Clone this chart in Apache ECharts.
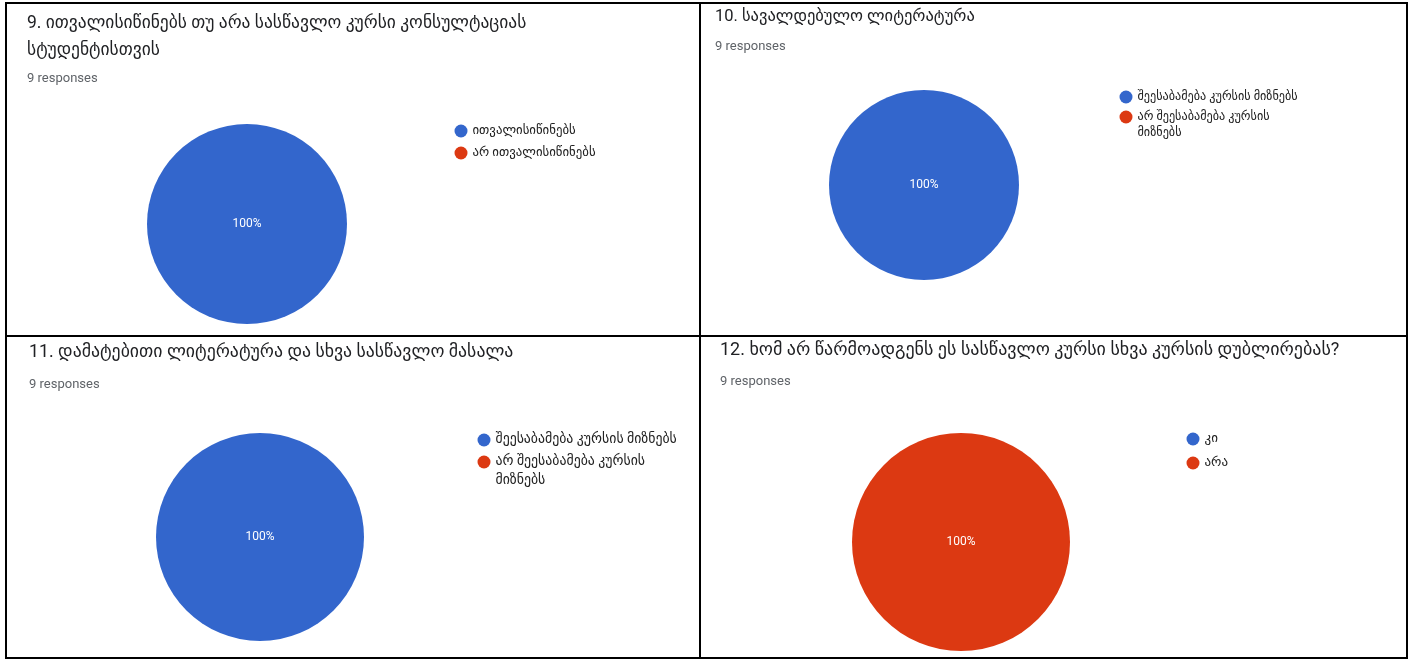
<!DOCTYPE html>
<html><head><meta charset="utf-8">
<script src="https://cdn.jsdelivr.net/npm/echarts@6/dist/echarts.min.js"></script>
<style>html,body{margin:0;padding:0;background:#fff}#c{width:1410px;height:659px}</style>
</head><body><div id="c"></div>
<script>
const titles = [
  "9. ითვალისიწინებს თუ არა სასწავლო კურსი კონსულტაციას\nსტუდენტისთვის",
  "10. სავალდებულო ლიტერატურა",
  "11. დამატებითი ლიტერატურა და სხვა სასწავლო მასალა",
  "12. ხომ არ წარმოადგენს ეს სასწავლო კურსი სხვა კურსის დუბლირებას?"
];
const responsesText = "9 responses";
const cats1 = ["ითვალისიწინებს", "არ ითვალისიწინებს"];
const vals1 = [9, 0];
const cats2 = ["შეესაბამება კურსის მიზნებს", "არ შეესაბამება კურსის მიზნებს"];
const vals2 = [9, 0];
const cats3 = ["შეესაბამება კურსის მიზნებს", "არ შეესაბამება კურსის მიზნებს"];
const vals3 = [9, 0];
const cats4 = ["კი", "არა"];
const vals4 = [0, 9];

const COLORS = ["#3366cc", "#dc3912"];
const FONT = "Roboto, 'DejaVu Sans', sans-serif";

// wrap legend labels at word boundaries (max characters per line)
function wrap(name, maxChars) {
  const words = name.split(' ');
  const lines = [];
  let cur = '';
  words.forEach(w => {
    const t = cur ? cur + ' ' + w : w;
    if (t.length > maxChars && cur) { lines.push(cur); cur = w; } else cur = t;
  });
  if (cur) lines.push(cur);
  return lines;
}

const panels = [
  {cats: cats1, vals: vals1, title: titles[0], tx: 27, ty: 10, tsize: 17.5, tlh: 27, rx: 27, ry: 72, cx: 247, cy: 224, r: 100, licx: 461, liy: [131, 153], lfs: 12.8, llh: 16},
  {cats: cats2, vals: vals2, title: titles[1], tx: 715, ty: 6, tsize: 16.5, tlh: 22, rx: 715, ry: 40, cx: 924, cy: 185, r: 95, licx: 1126, liy: [97, 117], lfs: 12.2, llh: 16},
  {cats: cats3, vals: vals3, title: titles[2], tx: 29, ty: 342, tsize: 17.8, tlh: 22, rx: 29, ry: 378, cx: 260, cy: 537, r: 104, licx: 484, liy: [440, 462], lfs: 13.8, llh: 19},
  {cats: cats4, vals: vals4, title: titles[3], tx: 720, ty: 338, tsize: 18, tlh: 24, rx: 720, ry: 375, cx: 961, cy: 542, r: 109, licx: 1193, liy: [439, 463], lfs: 13, llh: 17}
];

const title = [], legend = [], series = [];
panels.forEach((p, i) => {
  title.push({
    text: p.title, left: p.tx, top: p.ty, padding: 0,
    textStyle: {fontFamily: FONT, fontSize: p.tsize, fontWeight: 'normal', color: '#202124', lineHeight: p.tlh}
  });
  title.push({
    text: responsesText, left: p.rx, top: p.ry, padding: 0,
    textStyle: {fontFamily: FONT, fontSize: 13, fontWeight: 'normal', color: '#5f6368'}
  });
  const total = p.vals.reduce((a, b) => a + b, 0);
  series.push({
    type: 'pie', center: [p.cx, p.cy], radius: [0, p.r],
    startAngle: 90, clockwise: true, avoidLabelOverlap: false,
    silent: true, stillShowZeroSum: true,
    label: {show: true, position: 'center', color: '#fff', fontFamily: FONT, fontSize: 12,
      formatter: (d) => Math.round(d.value / total * 100) + '%'},
    labelLine: {show: false},
    itemStyle: {borderWidth: 0},
    emphasis: {disabled: true},
    data: p.cats.map((c, k) => ({
      name: c, value: p.vals[k],
      itemStyle: {color: COLORS[k]},
      label: {show: p.vals[k] > 0}
    }))
  });
  p.cats.forEach((c, k) => {
    const lines = wrap(c, 26);
    const n = lines.length;
    // blank lines in front keep the icon level with the first text line
    const shown = new Array(n - 1).fill(' ').concat(lines).join('\n');
    legend.push({
      left: p.licx - 6.5, top: p.liy[k] - (2 * n - 1) * p.llh / 2,
      padding: 0, orient: 'vertical', icon: 'circle',
      itemWidth: 13, itemHeight: 13, itemGap: 0, selectedMode: false,
      data: [c],
      formatter: () => shown,
      textStyle: {fontFamily: FONT, fontSize: p.lfs, color: '#222', lineHeight: p.llh}
    });
  });
});

const LINE = {stroke: '#000', lineWidth: 2};
const graphic = [
  {type: 'rect', shape: {x: 6, y: 3, width: 1401, height: 655}, style: {fill: 'none', stroke: '#000', lineWidth: 2}, silent: true},
  {type: 'line', shape: {x1: 700, y1: 3, x2: 700, y2: 659}, style: LINE, silent: true},
  {type: 'line', shape: {x1: 6, y1: 336, x2: 1407, y2: 336}, style: LINE, silent: true}
];

const chart = echarts.init(document.getElementById('c'), null, {renderer: 'canvas'});
chart.setOption({animation: false, title, legend, series, graphic});
</script></body></html>
